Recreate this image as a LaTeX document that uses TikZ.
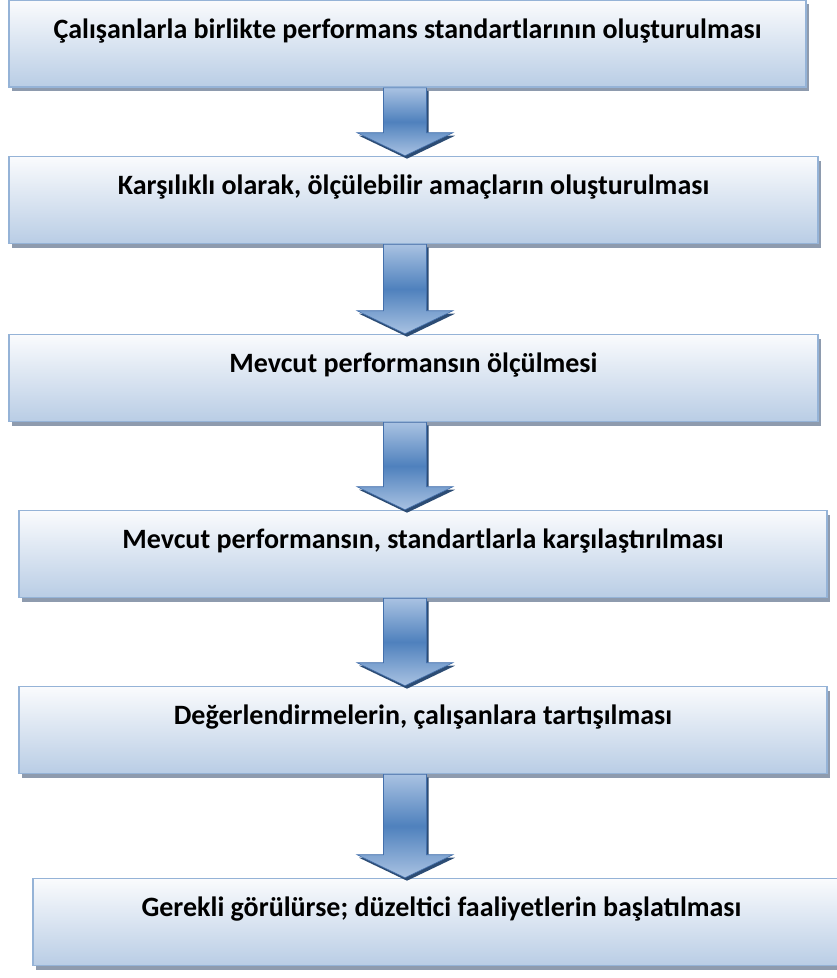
\documentclass[tikz,border=0pt]{standalone}
\usepackage{fontspec}
\setmainfont{Carlito}
\usetikzlibrary{calc,shadows}

\definecolor{boxBorder}{HTML}{95B3D7}
\definecolor{boxTop}{HTML}{FAFBFD}
\definecolor{boxBottom}{HTML}{B9CDE5}
\definecolor{boxShadow}{HTML}{8E9BAE}
\definecolor{arrowLight}{HTML}{A9C2E2}
\definecolor{arrowDark}{HTML}{4F81BD}
\definecolor{arrowEdge}{HTML}{4470AC}
\definecolor{arrowShadow}{HTML}{2C4C74}

\begin{document}
\begin{tikzpicture}[
    x=1pt,
    y=1pt,
    font=\fontsize{28}{32}\selectfont\bfseries,
    stepBox/.style={
        draw=boxBorder,
        line width=1.6pt,
        top color=boxTop,
        bottom color=boxBottom,
        drop shadow={shadow xshift=3pt, shadow yshift=-4pt, fill=boxShadow, opacity=1},
        minimum height=87pt,
        inner xsep=0pt,
        inner ysep=0pt,
        text height=38pt,
        text depth=49pt
    },
    blockArrow/.style={
        draw=arrowEdge,
        line width=0.6pt,
        top color=arrowLight,
        bottom color=arrowLight,
        middle color=arrowDark,
        preaction={fill=arrowShadow, transform canvas={shift={(2pt,-3pt)}}},
        to path={
            let \p1=(\tikztostart), \p2=(\tikztotarget), \p3=(arrowAxis) in
            ({\x3-21.5pt},\y1) -- ({\x3+21.5pt},\y1)
            -- ({\x3+21.5pt},{\y2+23pt}) -- ({\x3+48pt},{\y2+23pt})
            -- (\x3,\y2)
            -- ({\x3-48pt},{\y2+23pt}) -- ({\x3-21.5pt},{\y2+23pt})
            -- cycle
        }
    }
]

\useasboundingbox (0,0) rectangle (837,-978);

% Steps, top to bottom
\node[stepBox, minimum width=797pt] (standards) at (407.5,-43.5)
    {Çalışanlarla birlikte performans standartlarının oluşturulması};

\node[stepBox, minimum width=809pt] (goals) at (413.5,-200)
    {Karşılıklı olarak, ölçülebilir amaçların oluşturulması};

\node[stepBox, minimum width=809pt] (measure) at (413.5,-378)
    {Mevcut performansın ölçülmesi};

\node[stepBox, minimum width=808pt] (compare) at (423,-554)
    {Mevcut performansın, standartlarla karşılaştırılması};

\node[stepBox, minimum width=808pt] (discuss) at (423,-730)
    {Değerlendirmelerin, çalışanlara tartışılması};

\node[stepBox, minimum width=817pt] (correct) at (441.5,-922)
    {Gerekli görülürse; düzeltici faaliyetlerin başlatılması};

% Block arrows share one vertical axis
\coordinate (arrowAxis) at (405,0);

\draw[blockArrow] (standards.south) to (goals.north);
\draw[blockArrow] (goals.south) to (measure.north);
\draw[blockArrow] (measure.south) to (compare.north);
\draw[blockArrow] (compare.south) to (discuss.north);
\draw[blockArrow] (discuss.south) to (correct.north);

\end{tikzpicture}
\end{document}
